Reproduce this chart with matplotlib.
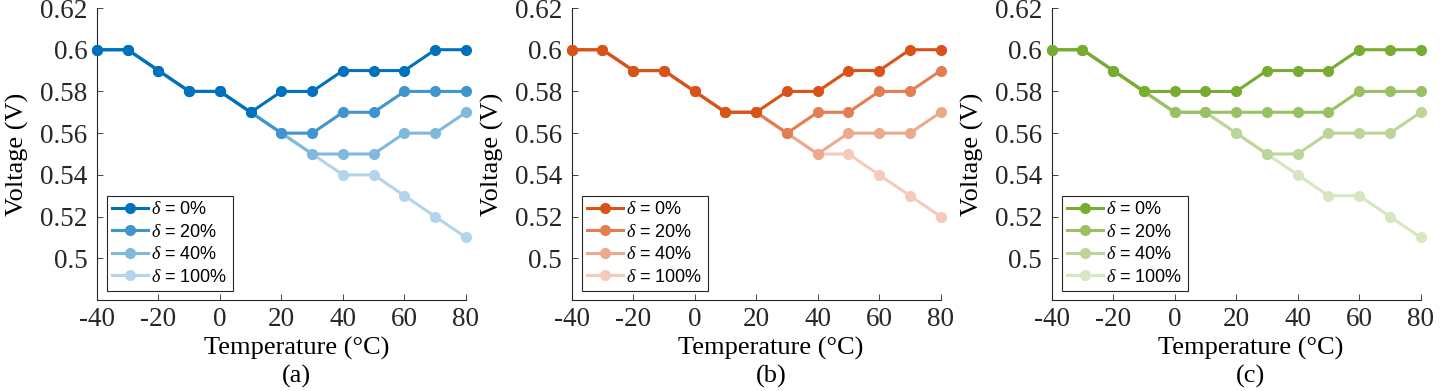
import numpy as np
import matplotlib
matplotlib.use('Agg')
import matplotlib.pyplot as plt

plt.rcParams['font.family'] = ['Liberation Serif', 'DejaVu Serif']
plt.rcParams['mathtext.fontset'] = 'custom'
plt.rcParams['mathtext.it'] = 'Liberation Serif:italic'
plt.rcParams['mathtext.rm'] = 'Liberation Serif'

temps = [-40, -30, -20, -10, 0, 10, 20, 30, 40, 50, 60, 70, 80]
labels = ['0%', '20%', '40%', '100%']
panel_names = ['(a)', '(b)', '(c)']

# panel (a)
a_0 = [0.60, 0.60, 0.59, 0.58, 0.58, 0.57, 0.58, 0.58, 0.59, 0.59, 0.59, 0.60, 0.60]
a_20 = [0.60, 0.60, 0.59, 0.58, 0.58, 0.57, 0.56, 0.56, 0.57, 0.57, 0.58, 0.58, 0.58]
a_40 = [0.60, 0.60, 0.59, 0.58, 0.58, 0.57, 0.56, 0.55, 0.55, 0.55, 0.56, 0.56, 0.57]
a_100 = [0.60, 0.60, 0.59, 0.58, 0.58, 0.57, 0.56, 0.55, 0.54, 0.54, 0.53, 0.52, 0.51]

# panel (b)
b_0 = [0.60, 0.60, 0.59, 0.59, 0.58, 0.57, 0.57, 0.58, 0.58, 0.59, 0.59, 0.60, 0.60]
b_20 = [0.60, 0.60, 0.59, 0.59, 0.58, 0.57, 0.57, 0.56, 0.57, 0.57, 0.58, 0.58, 0.59]
b_40 = [0.60, 0.60, 0.59, 0.59, 0.58, 0.57, 0.57, 0.56, 0.55, 0.56, 0.56, 0.56, 0.57]
b_100 = [0.60, 0.60, 0.59, 0.59, 0.58, 0.57, 0.57, 0.56, 0.55, 0.55, 0.54, 0.53, 0.52]

# panel (c)
c_0 = [0.60, 0.60, 0.59, 0.58, 0.58, 0.58, 0.58, 0.59, 0.59, 0.59, 0.60, 0.60, 0.60]
c_20 = [0.60, 0.60, 0.59, 0.58, 0.57, 0.57, 0.57, 0.57, 0.57, 0.57, 0.58, 0.58, 0.58]
c_40 = [0.60, 0.60, 0.59, 0.58, 0.57, 0.57, 0.56, 0.55, 0.55, 0.56, 0.56, 0.56, 0.57]
c_100 = [0.60, 0.60, 0.59, 0.58, 0.57, 0.57, 0.56, 0.55, 0.54, 0.53, 0.53, 0.52, 0.51]

panels = [[a_0, a_20, a_40, a_100], [b_0, b_20, b_40, b_100], [c_0, c_20, c_40, c_100]]
base_colors = [(0, 114, 189), (217, 83, 25), (119, 172, 48)]
shades = [1.0, 0.75, 0.5, 0.3]


def tint(rgb, f):
    rgb = np.array(rgb) / 255.0
    return tuple(rgb * f + (1 - f))


fig = plt.figure(figsize=(14.41, 3.91), dpi=100)
lefts = [97, 571.7, 1051.7]
for k in range(3):
    ax = fig.add_axes([lefts[k] / 1441, 1 - 300 / 391, 369 / 1441, 292 / 391])
    for i, ys in enumerate(panels[k]):
        ax.plot(temps, ys, '-o', color=tint(base_colors[k], shades[i]), lw=2.2, ms=7,
                label=r'$\delta$ = ' + labels[i], zorder=10 - i, clip_on=False)
    ax.set_xlim(-40, 80)
    ax.set_ylim(0.48, 0.62)
    ax.set_xticks([-40, -20, 0, 20, 40, 60, 80])
    ax.set_xticklabels(['-40', '-20', '0', '20', '40', '60', '80'])
    ax.set_yticks([0.5, 0.52, 0.54, 0.56, 0.58, 0.6, 0.62])
    ax.set_yticklabels(['0.5', '0.52', '0.54', '0.56', '0.58', '0.6', '0.62'])
    ax.spines['top'].set_visible(False)
    ax.spines['right'].set_visible(False)
    for s in ['left', 'bottom']:
        ax.spines[s].set_color('#262626')
        ax.spines[s].set_linewidth(0.8)
    ax.tick_params(direction='in', length=4, width=0.6, labelsize=19.5, colors='#262626', pad=5)
    ax.tick_params(axis='y', pad=7)
    ax.text(-0.215, 0.5, 'Voltage (V)', rotation=90, ha='center', va='center',
            fontsize=19, transform=ax.transAxes)
    ax.text(0.54, -0.165, 'Temperature (°C)', ha='center', va='center',
            fontsize=19, transform=ax.transAxes)
    ax.text(0.54, -0.262, panel_names[k], ha='center', va='center',
            fontsize=19, transform=ax.transAxes)
    leg = ax.legend(loc='lower left', bbox_to_anchor=(0.027, 0.031), borderaxespad=0,
                    prop={'family': 'Liberation Sans', 'size': 13}, fancybox=False,
                    edgecolor='#262626', framealpha=1, handlelength=2.0,
                    handletextpad=0.15, labelspacing=0.3, borderpad=0.3)
    leg.get_frame().set_linewidth(0.8)

fig.savefig('out.png', dpi=100)
